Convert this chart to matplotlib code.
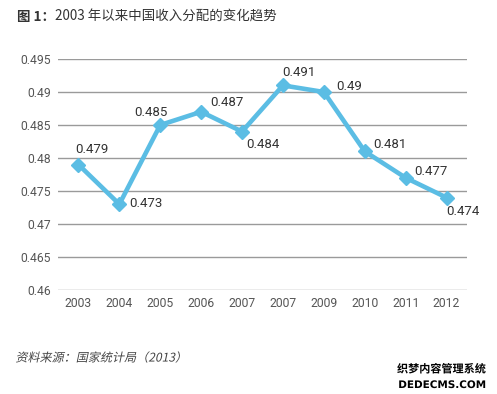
import matplotlib
matplotlib.use("Agg")
import matplotlib.pyplot as plt
import matplotlib.patheffects as pe
from matplotlib.textpath import TextPath
from matplotlib.font_manager import FontProperties
from matplotlib.patches import PathPatch
from matplotlib.transforms import Affine2D, IdentityTransform

categories = ["2003", "2004", "2005", "2006", "2007", "2007", "2009", "2010", "2011", "2012"]
values = [0.479, 0.473, 0.485, 0.487, 0.484, 0.491, 0.49, 0.481, 0.477, 0.474]
value_labels = ["0.479", "0.473", "0.485", "0.487", "0.484", "0.491", "0.49", "0.481", "0.477", "0.474"]
yticks = [0.46, 0.465, 0.47, 0.475, 0.48, 0.485, 0.49, 0.495]
ytick_labels = ["0.46", "0.465", "0.47", "0.475", "0.48", "0.485", "0.49", "0.495"]

title_bold = "图 1："
title_rest = "2003 年以来中国收入分配的变化趋势"
source = "资料来源：国家统计局（2013）"

# label offsets in pixels (dx, dy) and alignment
offsets = [(-3, 15, "left"), (10, 1, "left"), (-9, 13, "center"), (9, 9, "left"),
           (4, -13, "left"), (-1, 13, "left"), (12, 5, "left"), (9, 7, "left"),
           (9, 6, "left"), (0, -14, "left")]

CJK = ["Noto Sans CJK SC", "DejaVu Sans"]
NUM = ["Roboto", "DejaVu Sans"]
blue = "#5bbde4"

W, H = 497, 394
fig = plt.figure(figsize=(W / 100, H / 100), dpi=100)
fig.patch.set_facecolor("white")
ax = fig.add_axes([58 / W, 1 - 290 / H, (467 - 58) / W, (290 - 59) / H])

x = list(range(len(categories)))
ax.plot(x, values, color=blue, lw=3.3, marker="D", markersize=7,
        markerfacecolor=blue, markeredgecolor=blue, solid_joinstyle="miter", zorder=3)

px2pt = 72 / 100
for xi, v, lab, (dx, dy, ha) in zip(x, values, value_labels, offsets):
    ax.annotate(lab, (xi, v), xytext=(dx * px2pt, dy * px2pt), textcoords="offset points",
                ha=ha, va="center", fontsize=9.5, color="#333333", family=NUM, zorder=4)

ax.set_xlim(-0.5, len(categories) - 0.5)
ax.set_ylim(0.46, 0.495)
ax.set_yticks(yticks)
ax.set_yticklabels(ytick_labels, family=NUM, fontsize=8.7, color="#555555")
ax.set_xticks(x)
ax.set_xticklabels(categories, family=NUM, fontsize=8.7, color="#555555")
ax.tick_params(axis="both", length=0, pad=5)
ax.grid(axis="y", color="#9a9a9a", lw=1.0)
ax.set_axisbelow(True)
for s in ax.spines.values():
    s.set_visible(False)

t1 = fig.text(17 / W, 1 - 17 / H, title_bold, family=CJK, fontsize=9.7,
              fontweight="bold", color="#333333", va="center", ha="left")
fig.canvas.draw()
bb = t1.get_window_extent()
fig.text(bb.x1 / W, 1 - 17 / H, title_rest, family=CJK, fontsize=9.7,
         color="#333333", va="center", ha="left")

# italic (slanted) source line drawn as a skewed text path, in pixel coordinates
fp = FontProperties(family="Noto Sans CJK SC")
tp = TextPath((0, 0), source, size=12.0, prop=fp)
ext = tp.get_extents()
tr = (Affine2D().translate(-ext.x0, -(ext.y0 + ext.y1) / 2)
      .skew_deg(12, 0)
      .scale(166 / ext.width * 0.98, 1.0)
      .translate(17, H - 357))
fig.patches.append(PathPatch(tr.transform_path(tp), transform=IdentityTransform(),
                             facecolor="#444444", edgecolor="none", figure=fig))

wm1 = fig.text(486 / W, 1 - 369 / H, "织梦内容管理系统", family=CJK, fontsize=8,
               fontweight="bold", color="black", va="center", ha="right")
wm2 = fig.text(486 / W, 1 - 385 / H, "DEDECMS.COM", family=["DejaVu Sans"], fontsize=7.5,
               fontweight="bold", color="black", va="center", ha="right")
for w in (wm1, wm2):
    w.set_path_effects([pe.withStroke(linewidth=2, foreground="white")])

fig.savefig("out.png", dpi=100, facecolor="white")
